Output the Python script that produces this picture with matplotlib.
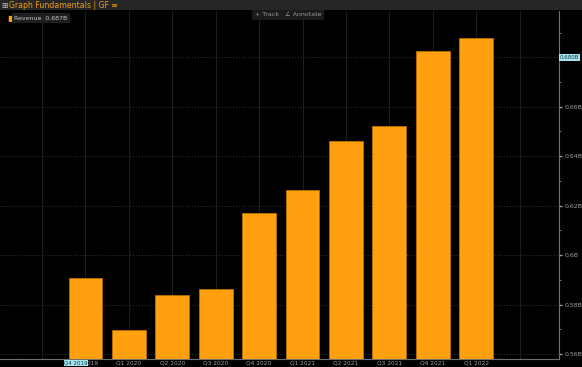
import matplotlib.pyplot as plt
import numpy as np

# quarterly revenue, in billions
quarters = ['Q4 2019', 'Q1 2020', 'Q2 2020', 'Q3 2020', 'Q4 2020',
            'Q1 2021', 'Q2 2021', 'Q3 2021', 'Q4 2021', 'Q1 2022']
revenue = [0.5908, 0.5697, 0.5839, 0.5864, 0.6172,
           0.6265, 0.6460, 0.6521, 0.6825, 0.6878]
y_ticks = [0.56, 0.58, 0.60, 0.62, 0.64, 0.66]
y_tick_labels = ['0.56B', '0.58B', '0.6B', '0.62B', '0.64B', '0.66B']

bar_color = '#FFA010'
grid_color = '#2e2e2e'
text_color = '#a0a0a0'

fig = plt.figure(figsize=(5.82, 3.67), dpi=100, facecolor='black')

# header strip
fig.patches.append(plt.Rectangle((0, 1 - 10 / 367), 1, 10 / 367, transform=fig.transFigure,
                                 facecolor='#262626', edgecolor='none', zorder=0))
fig.text(1 / 582, 1 - 5 / 367, '⊞', color='#c8c8c8', fontsize=5.5, va='center', ha='left')
fig.text(9 / 582, 1 - 5 / 367, 'Graph Fundamentals | GF ≡', color='#F39C12',
         fontsize=5.6, va='center', ha='left')

ax = fig.add_axes([0, 8 / 367, 559 / 582, 1 - 19 / 367])
ax.set_facecolor('black')

x = np.arange(len(quarters))
ax.bar(x, np.array(revenue) - 0.5, bottom=0.5, width=0.78, color=bar_color,
       edgecolor='#b86e00', linewidth=0.6, zorder=3)

ax.set_xlim(-1.97, 10.91)
ax.set_ylim(0.558, 0.6987)

# grid: vertical at every category slot, horizontal at major ticks
ax.set_xticks(np.arange(-1, 11), minor=True)
ax.set_xticks(x)
ax.set_xticklabels(quarters)
ax.set_yticks(y_ticks + [0.68])
ax.set_yticklabels(y_tick_labels + [''])
ax.set_yticks(np.arange(0.57, 0.70, 0.02), minor=True)
ax.yaxis.tick_right()
ax.grid(True, which='major', axis='y', color=grid_color, linestyle=':', linewidth=0.8, zorder=0)
ax.grid(True, which='minor', axis='x', color='#1c1c1c', linewidth=0.8, zorder=0)
ax.grid(True, which='major', axis='x', color='#1c1c1c', linewidth=0.8, zorder=0)

ax.tick_params(axis='x', which='both', length=0, labelsize=4.2, colors=text_color, pad=0.8)
ax.tick_params(axis='y', which='major', length=2, width=1, labelsize=4.5,
               colors=text_color, pad=2)
ax.tick_params(axis='y', which='minor', length=1.5, width=0.8, colors='#707070')

for side in ['top', 'left']:
    ax.spines[side].set_visible(False)
ax.spines['right'].set_color('#707070')
ax.spines['bottom'].set_color('#707070')

# highlighted crosshair labels
ax.text(1.002, 0.68, '0.680B', transform=ax.get_yaxis_transform(), fontsize=4,
        color='#0b3d4a', va='center', ha='left',
        bbox=dict(boxstyle='square,pad=0.15', facecolor='#a8e4ee', edgecolor='none'))
ax.annotate('Q4 2019', xy=(-0.22, 0), xycoords=('data', 'axes fraction'),
            xytext=(0, -4), textcoords='offset pixels', fontsize=4,
            color='#0b3d4a', va='center', ha='center', zorder=5,
            bbox=dict(boxstyle='square,pad=0.1', facecolor='#a8e4ee', edgecolor='none'))

# legend box
fig.text(7 / 582, 1 - 18 / 367, '■', color=bar_color, fontsize=6, va='center', ha='left')
fig.text(14 / 582, 1 - 18 / 367, 'Revenue  0.687B', color='#c8c8c8', fontsize=4.5,
         va='center', ha='left',
         bbox=dict(boxstyle='square,pad=0.4', facecolor='#1e1e1e', edgecolor='none'))

# track / annotate buttons
fig.text(288 / 582, 1 - 15 / 367, '+ Track   ∠ Annotate', color='#9a9a9a', fontsize=4.5,
         va='center', ha='center',
         bbox=dict(boxstyle='square,pad=0.4', facecolor='#1a1a1a', edgecolor='none'))

fig.savefig('out.png', dpi=100, facecolor='black')
